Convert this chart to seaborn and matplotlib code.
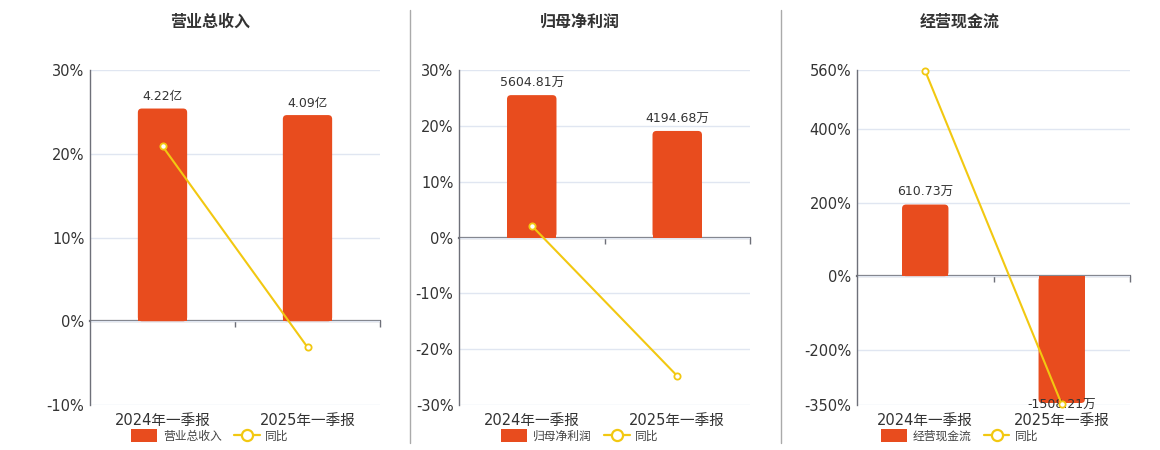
import matplotlib
matplotlib.use("Agg")
import matplotlib.pyplot as plt
import seaborn as sns
import pandas as pd
import numpy as np
from matplotlib.patches import FancyBboxPatch, Rectangle
from matplotlib.lines import Line2D

sns.set_theme(style="white")
plt.rcParams['font.family'] = ['DejaVu Sans', 'Noto Sans CJK SC']
plt.rcParams['axes.unicode_minus'] = False

# ---------------- data ----------------
categories = ['2024年一季报', '2025年一季报']

titles = ['营业总收入', '归母净利润', '经营现金流']

revenue = [4.22, 4.09]
revenue_labels = ['4.22亿', '4.09亿']
revenue_yoy = [20.9, -3.1]

profit = [5604.81, 4194.68]
profit_labels = ['5604.81万', '4194.68万']
profit_yoy = [2.1, -24.8]

cashflow = [610.73, -1508.21]
cashflow_labels = ['610.73万', '-1508.21万']
cashflow_yoy = [557.0, -348.0]

yticks_list = [
    [-10, 0, 10, 20, 30],
    [-30, -20, -10, 0, 10, 20, 30],
    [-350, -200, 0, 200, 400, 560],
]
# ratio between bar units and percent units (scale styling)
bar_scale = [4.22 / 25.4, 5604.81 / 25.5, 610.73 / 194.5]

BAR = '#E84C1E'
LINE = '#F2C811'
GRID = '#E0E6F1'
AXC = '#6E7079'
TXT = '#333333'

W, H = 1160, 450
fig = plt.figure(figsize=(W / 100, H / 100), dpi=100)

panels = [  # left, right px
    (90, 380),
    (459, 750),
    (857, 1130),
]
centers = [210, 580, 960]
top_px, bot_px = 70, 405

series = [
    (revenue, revenue_labels, revenue_yoy),
    (profit, profit_labels, profit_yoy),
    (cashflow, cashflow_labels, cashflow_yoy),
]

for i, ((l, r), (vals, labs, yoy)) in enumerate(zip(panels, series)):
    ax = fig.add_axes([l / W, 1 - bot_px / H, (r - l) / W, (bot_px - top_px) / H])
    ax.set_zorder(1)
    yt = yticks_list[i]
    ymin, ymax = yt[0], yt[-1]

    # bars on hidden twin axis
    axb = ax.twinx()
    axb.set_zorder(2)
    axb.patch.set_visible(False)
    k = bar_scale[i]
    df = pd.DataFrame({'cat': categories, 'val': vals})
    sns.barplot(data=df, x='cat', y='val', ax=axb, color=BAR, width=0.34,
                saturation=1, edgecolor='none', linewidth=0)
    axb.set_ylim(ymin * k, ymax * k)
    axb.set_xlim(-0.5, 1.5)
    axb.set_ylabel('')
    axb.set_xlabel('')
    axb.set_yticks([])
    for s in axb.spines.values():
        s.set_visible(False)

    # yoy line on top
    axl = ax.twinx()
    axl.set_zorder(3)
    axl.patch.set_visible(False)
    dfl = pd.DataFrame({'x': [0, 1], 'yoy': yoy})
    sns.lineplot(data=dfl, x='x', y='yoy', ax=axl, color=LINE, linewidth=1.5,
                 marker='o', markersize=4.5, markerfacecolor='white',
                 markeredgecolor=LINE, markeredgewidth=1.3, clip_on=False)
    axl.set_ylim(ymin, ymax)
    axl.set_yticks([])
    axl.set_ylabel('')
    axl.set_xlabel('')
    for s in axl.spines.values():
        s.set_visible(False)

    # main axis styling (after twins, since x is shared)
    ax.set_ylim(ymin, ymax)
    ax.set_xlim(-0.5, 1.5)
    ax.set_yticks(yt)
    ax.set_yticklabels([f'{t}%' for t in yt], fontsize=10.5, color=TXT)
    ax.tick_params(axis='y', length=0, pad=4)
    ax.grid(axis='y', color=GRID, linewidth=1)
    ax.grid(axis='x', visible=False)
    ax.set_xticks([0, 1])
    ax.set_xticklabels(categories, fontsize=10.5, color=TXT)
    ax.tick_params(axis='x', length=0, pad=6)
    ax.set_xlabel('')
    for sname in ['top', 'right', 'bottom']:
        ax.spines[sname].set_visible(False)
    ax.spines['left'].set_color(AXC)
    ax.spines['left'].set_linewidth(1)
    axb.xaxis.set_visible(False)
    axl.xaxis.set_visible(False)

    # zero axis line with boundary ticks
    zfrac = (0 - ymin) / (ymax - ymin)
    sec = ax.secondary_xaxis(zfrac)
    sec.set_xticks([0.5, 1.5])
    sec.set_xticklabels([])
    sec.xaxis.set_ticks_position('bottom')
    sec.tick_params(axis='x', length=4, width=1, color=AXC, direction='out')
    for sname, s in sec.spines.items():
        s.set_visible(False)
    sec.spines['bottom'].set_visible(True)
    sec.spines['bottom'].set_color(AXC)
    sec.spines['bottom'].set_linewidth(1.6)
    sec.spines['bottom'].set_position(('axes', 0))

    # rounded far ends of bars
    fig.canvas.draw()
    inv = axb.transData.inverted()
    x_per_px = (inv.transform((1, 0))[0] - inv.transform((0, 0))[0])
    y_per_px = (inv.transform((0, 1))[1] - inv.transform((0, 0))[1])
    rad_px = 4
    for p, v, lab in zip(list(axb.patches), vals, labs):
        x0, w = p.get_x(), p.get_width()
        y0, h = p.get_y(), p.get_height()
        lo, hi = min(y0, y0 + h), max(y0, y0 + h)
        lo_c = max(lo, ymin * k + 2 * y_per_px)
        hi_c = min(hi, ymax * k)
        p.set_visible(False)
        rb = FancyBboxPatch((x0, lo_c), w, hi_c - lo_c,
                            boxstyle=f"round,pad=0,rounding_size={rad_px * x_per_px}",
                            mutation_aspect=y_per_px / x_per_px,
                            facecolor=BAR, edgecolor='none', zorder=2)
        axb.add_patch(rb)
        span = hi_c - lo_c
        if v >= 0:
            sq = Rectangle((x0, lo_c), w, span * 0.5, facecolor=BAR, edgecolor='none', zorder=2)
        else:
            sq = Rectangle((x0, hi_c - span * 0.5), w, span * 0.5, facecolor=BAR, edgecolor='none', zorder=2)
        axb.add_patch(sq)
        xc = x0 + w / 2
        if v >= 0:
            axb.annotate(lab, (xc, v), xytext=(0, 4), textcoords='offset points',
                         ha='center', va='bottom', fontsize=9, color=TXT, zorder=6)
        else:
            axb.annotate(lab, (xc, lo_c), xytext=(0, -2), textcoords='offset points',
                         ha='center', va='center', fontsize=9, color=TXT, zorder=6,
                         annotation_clip=False)

    # title
    fig.text(centers[i] / W, 1 - 22 / H, titles[i], ha='center', va='center',
             fontsize=11.5, fontweight='bold', color=TXT)

    # legend
    handles = [
        FancyBboxPatch((0, 0), 1, 1, boxstyle='round,pad=0,rounding_size=0.2',
                       facecolor=BAR, edgecolor='none'),
        Line2D([0], [0], color=LINE, linewidth=1.6, marker='o', markersize=8,
               markerfacecolor='white', markeredgecolor=LINE, markeredgewidth=1.6),
    ]
    fig.legend(handles, [titles[i], '同比'], loc='center',
               bbox_to_anchor=(centers[i] / W, 1 - 436 / H), ncol=2, frameon=False,
               fontsize=8.5, handlelength=2.2, handleheight=1.3, columnspacing=1.0,
               handletextpad=0.5, labelcolor='#444444')

# separators
for xs in [410, 781]:
    fig.add_artist(Line2D([xs / W, xs / W], [1 - 10 / H, 1 - 443 / H],
                          color='#AAAAAA', linewidth=1))

fig.savefig('out.png', dpi=100, facecolor='white')
